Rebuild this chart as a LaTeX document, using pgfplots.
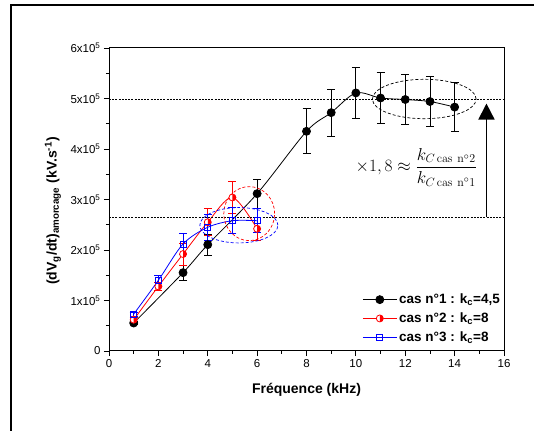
\documentclass[border=0pt]{standalone}
\usepackage{fix-cm}
\usepackage[no-math]{fontspec}
\setmainfont{Liberation Sans}
\usepackage{pgfplots}
\pgfplotsset{compat=1.18}
\usetikzlibrary{arrows.meta}

\pgfdeclareplotmark{halfcirc}{%
  \pgfpathcircle{\pgfpointorigin}{\pgfplotmarksize}%
  \pgfsetfillcolor{white}\pgfusepathqfill
  \pgfpathmoveto{\pgfqpoint{0pt}{\pgfplotmarksize}}%
  \pgfpatharc{90}{-90}{\pgfplotmarksize}%
  \pgfpathclose
  \pgfsetfillcolor{red}\pgfusepathqfill
  \pgfpathcircle{\pgfpointorigin}{\pgfplotmarksize}%
  \pgfusepathqstroke
}

\begin{document}
\begin{tikzpicture}
\begin{axis}[
  at={(0,0)}, anchor=south west,
  scale only axis, width=395pt, height=303pt,
  xmin=0, xmax=16, ymin=0, ymax=600000,
  xtick={0,2,4,6,8,10,12,14,16}, minor x tick num=1,
  ytick={0,100000,200000,300000,400000,500000,600000}, minor y tick num=1,
  yticklabels={0,1x10\textsuperscript{5},2x10\textsuperscript{5},3x10\textsuperscript{5},4x10\textsuperscript{5},5x10\textsuperscript{5},6x10\textsuperscript{5}},
  scaled y ticks=false,
  tick pos=left, tick align=outside,
  major tick length=5pt, minor tick length=3pt,
  axis line style={line width=1pt},
  tick style={line width=0.8pt, black},
  ticklabel style={font=\fontsize{11.5}{13}\selectfont},
  /pgf/number format/assume math mode=true,
  xlabel={Fréquence (kHz)},
  ylabel={(dV\textsubscript{g}/dt)\textsubscript{amorcage} (kV.s\textsuperscript{-1})},
  label style={font=\bfseries\fontsize{14}{16}\selectfont},
  xlabel style={at={(axis description cs:0.5,0)}, yshift=-39pt, anchor=center},
  ylabel style={at={(axis description cs:-0.142,0.462)}, anchor=center},
  legend style={at={(1,0.013)}, anchor=south east, draw=none, fill=none,
    font=\bfseries\fontsize{13.5}{16}\selectfont, row sep=3.5pt, inner sep=2pt},
  legend cell align=left,
  legend image code/.code={\draw[mark repeat=2,mark phase=2] plot coordinates {(0pt,0pt)(17pt,0pt)(34pt,0pt)};},
]
% cas 1
\addplot[black, line width=0.8pt, smooth, tension=0.5, mark=*, mark size=4pt,
  mark options={solid, fill=black},
  error bars/.cd, y dir=both, y explicit,
  error bar style={black, line width=0.8pt},
  error mark options={rotate=90, black, mark size=4pt, line width=0.8pt}]
  table[x=x, y=y, y error=e] {
x y e
1 55400 3000
3 155100 15000
4 210600 21000
6 311600 29000
8 435000 44500
9 472000 47000
10 511000 51000
11 501000 50000
12 498000 50000
13 494000 50000
14 483000 48500
};
\addlegendentry{cas n°1 : k\textsubscript{c}=4,5}
% cas 2
\addplot[red, line width=0.8pt, smooth, tension=0.5, mark=halfcirc, mark size=3.5pt,
  mark options={solid},
  error bars/.cd, y dir=both, y explicit,
  error bar style={red, line width=0.8pt},
  error mark options={rotate=90, red, mark size=4pt, line width=0.8pt}]
  table[x=x, y=y, y error=e] {
x y e
1 62000 5000
2 128000 8000
3 192000 22000
4 255000 27000
5 304000 32000
6 242000 23000
};
\addlegendentry{cas n°2 : k\textsubscript{c}=8}
% cas 3
\addplot[blue, line width=0.8pt, smooth, tension=0.5, mark=square, mark size=3pt,
  mark options={solid, fill=white},
  error bars/.cd, y dir=both, y explicit,
  error bar style={blue, line width=0.8pt},
  error mark options={rotate=90, blue, mark size=4pt, line width=0.8pt}]
  table[x=x, y=y, y error=e] {
x y e
1 73000 4000
2 140000 10000
3 212000 20000
4 245000 26000
5 258000 26000
6 258000 24000
};
\addlegendentry{cas n°3 : k\textsubscript{c}=8}

\draw[dash pattern=on 2pt off 1.2pt, line width=0.8pt] (axis cs:0,497700) -- (axis cs:16,497700);
\draw[dash pattern=on 2pt off 1.2pt, line width=0.8pt] (axis cs:0,265300) -- (axis cs:16,265300);
\draw[dash pattern=on 3pt off 2pt, line width=0.7pt] (axis cs:12.77,499000) ellipse [x radius=2.1, y radius=39000];
\draw[red, dash pattern=on 3pt off 2pt, line width=0.7pt] (axis cs:5.68,272000) ellipse [x radius=1.03, y radius=53500];
\draw[blue, dash pattern=on 3pt off 2pt, line width=0.7pt] (axis cs:5.26,249000) ellipse [x radius=1.58, y radius=35000];
\draw[line width=1.8pt, -{Triangle[width=16pt,length=16pt]}] (axis cs:15.29,265300) -- (axis cs:15.29,490000);
\node at (axis cs:12.45,364000) {\fontsize{17.28}{20}\selectfont $\times1,8\approx\displaystyle\frac{k_{C\,\mathrm{cas\ n^\circ 2}}}{k_{C\,\mathrm{cas\ n^\circ 1}}}$};
\end{axis}
\pgfresetboundingbox
\path[use as bounding box] (-109pt,-79pt) rectangle (425pt,351pt);
\draw[line width=2pt] (-98pt,-80pt) -- (-98pt,346pt) -- (426pt,346pt);
\end{tikzpicture}
\end{document}
